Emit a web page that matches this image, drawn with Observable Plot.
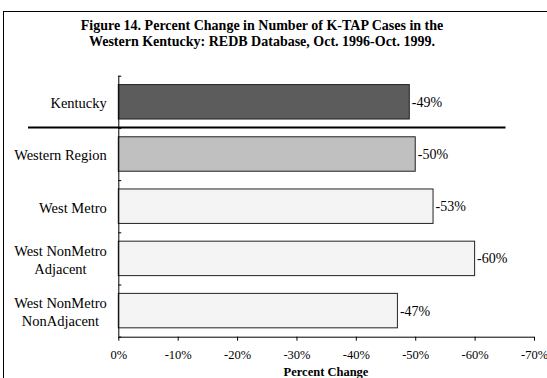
<!DOCTYPE html>
<html>
<head>
<meta charset="utf-8">
<script src="https://cdn.jsdelivr.net/npm/d3@7"></script>
<script src="https://cdn.jsdelivr.net/npm/@observablehq/plot@0.6"></script>
<style>
  body { margin: 0; background: #fff; width: 547px; height: 378px; overflow: hidden; position: relative; }
  #frame { position: absolute; left: 3px; top: 11px; width: 620px; height: 420px;
           border-left: 1px solid #000; border-top: 1px solid #000; }
  #title { position: absolute; left: 0; top: 18px; width: 524px; text-align: center;
           font: bold 14px "Liberation Serif", "Times New Roman", serif; line-height: 15.6px; color: #000; }
  #xlabel { position: absolute; left: 226px; top: 365px; width: 200px; text-align: center;
            font: bold 12.5px "Liberation Serif", "Times New Roman", serif; line-height: 14px; color: #000; }
  #chart { position: absolute; left: 0; top: 0; }
</style>
</head>
<body>
<div id="frame"></div>
<div id="title">Figure 14. Percent Change in Number of K-TAP Cases in the<br>Western Kentucky: REDB Database, Oct. 1996-Oct. 1999.</div>
<div id="chart"></div>
<div id="xlabel">Percent Change</div>
<script>
// Areas, their change in K-TAP cases (percent), and the level each belongs to
const regions = ["Kentucky", "Western Region", "West Metro", "West NonMetro\nAdjacent", "West NonMetro\nNonAdjacent"];
const pctChange = [-49, -50, -53, -60, -47];
const levels = ["State", "Region", "Area", "Area", "Area"];
const xTicks = [0, -10, -20, -30, -40, -50, -60, -70];
// the rule that sets the state apart from the western areas (percent units)
const dividerFrom = 15.2;
const dividerTo = -65.2;

const rows = regions.map((region, i) => ({ region, value: pctChange[i], level: levels[i], i }));

const plot = Plot.plot({
  width: 547,
  height: 378,
  marginLeft: 118.3,
  marginRight: 13,
  marginTop: 75.7,
  marginBottom: 41.3,
  style: { fontFamily: "'Liberation Serif', 'Times New Roman', serif", background: "transparent", color: "#000" },
  x: { domain: [0, -70] },
  y: { domain: [0, regions.length], reverse: true, axis: null },
  color: { domain: ["State", "Region", "Area"], range: ["#5c5c5c", "#c0c0c0", "#f4f4f4"] },
  marks: [
    Plot.rectX(rows, {
      x1: 0, x2: "value",
      y1: d => d.i + 0.17, y2: d => d.i + 0.83,
      fill: "level", stroke: "#222", strokeWidth: 1
    }),
    Plot.axisX({
      ticks: xTicks, tickFormat: d => `${d}%`, tickSize: 4, tickPadding: 9,
      fontSize: 12.5, label: null, stroke: "#000"
    }),
    Plot.axisY({
      ticks: d3.range(regions.length + 1), tickFormat: () => "", tickSize: 3, dx: 3, label: null
    }),
    Plot.ruleX([0], { y1: 0, y2: regions.length, stroke: "#000" }),
    Plot.ruleY([regions.length], { x1: 0, x2: -70, stroke: "#000" }),
    Plot.ruleY([1], { x1: dividerFrom, x2: dividerTo, stroke: "#000", strokeWidth: 2, dy: -1 }),
    Plot.text(rows, {
      x: 0, y: d => d.i + 0.5, text: "region", textAnchor: "end", dx: -12,
      fontSize: 14.5, lineHeight: 1.25, fill: "#000"
    }),
    Plot.text(rows, {
      x: "value", y: d => d.i + 0.5, text: d => `${d.value}%`, textAnchor: "start", dx: 2,
      fontSize: 14, fill: "#000"
    })
  ]
});

document.getElementById("chart").append(plot);

// center the lines of two-line category labels within their right-aligned block
d3.select(plot).selectAll("text").each(function () {
  const spans = this.querySelectorAll("tspan");
  if (spans.length < 2) return;
  const widths = Array.from(spans, s => s.getComputedTextLength());
  const widest = Math.max(...widths);
  spans.forEach((s, k) => s.setAttribute("dx", -(widest - widths[k]) / 2));
});
</script>
</body>
</html>
